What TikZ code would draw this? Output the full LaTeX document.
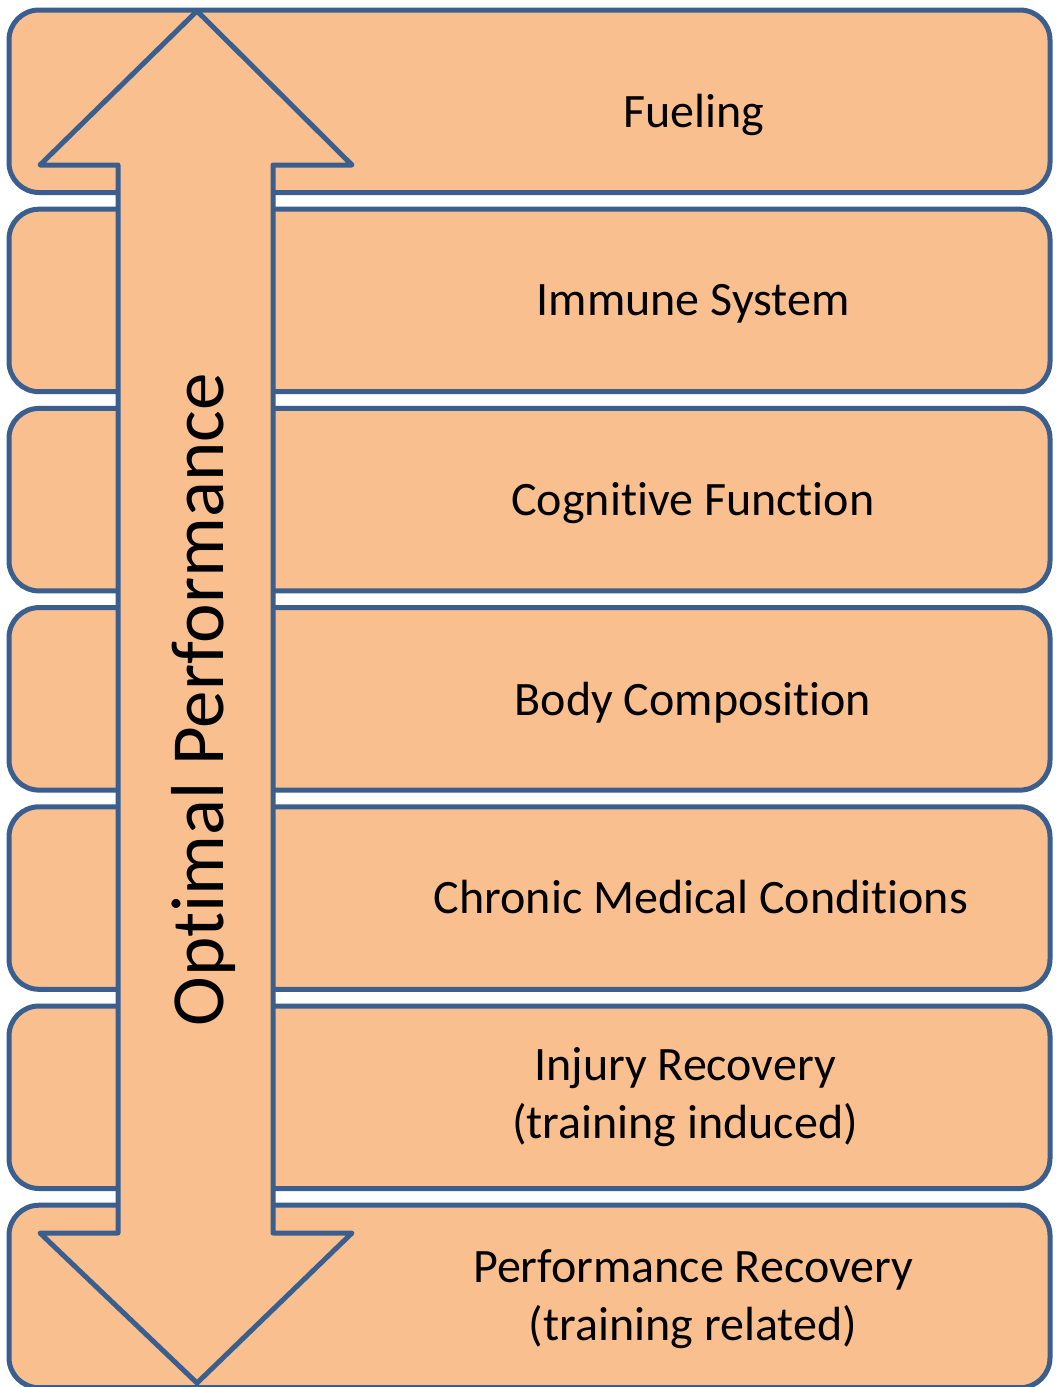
\documentclass[tikz,border=0pt]{standalone}
\usepackage{fontspec}
\setmainfont{Carlito}[Ligatures=CommonOff]
\definecolor{boxfill}{HTML}{F9BF8F}
\definecolor{boxline}{HTML}{3A5F8F}
\begin{document}
\begin{tikzpicture}[x=1pt,y=-1pt,
  box/.style={draw=boxline, fill=boxfill, line width=5pt, rounded corners=30pt,
    minimum width=1041pt, minimum height=182.5pt, inner sep=0pt},
  lbl/.style={anchor=base, inner sep=0pt, font=\fontsize{48}{58}\selectfont},
  bigarrow/.style={draw=boxline, fill=boxfill, line width=5pt, line join=round}]
\useasboundingbox (0,0) rectangle (1057,1387);
\fill[white] (0,0) rectangle (1057,1387);
% boxes
\foreach \i in {0,...,6}{
  \node[box] (b\i) at (529.5, {101.25+199.2*\i}) {};
}
% arrow
\coordinate (tipT) at (197,11);
\coordinate (tipB) at (197,1383);
\draw[bigarrow] (tipT) -- (352,165) -- (273,165) -- (273,1233) -- (352,1233)
  -- (tipB) -- (40,1233) -- (118,1233) -- (118,165) -- (40,165) -- cycle;
\node[anchor=base, inner sep=0pt, rotate=90, font=\fontsize{75}{90}\selectfont]
  (op) at (223,700) {Optimal Performance};
% labels
\node[lbl] (t1) at (694,127) {Fueling};
\node[lbl] (t2) at (693,315) {Immune System};
\node[lbl] (t3) at (693,515) {Cognitive Function};
\node[lbl] (t4) at (693,715) {Body Composition};
\node[lbl] (t5) at (701,913) {Chronic Medical Conditions};
\node[lbl] (t6a) at (685,1080) {Injury Recovery};
\node[lbl] (t6b) at (685,1138) {(training induced)};
\node[lbl] (t7a) at (693,1282) {Performance Recovery};
\node[lbl] (t7b) at (693,1340) {(training related)};
\end{tikzpicture}
\end{document}
